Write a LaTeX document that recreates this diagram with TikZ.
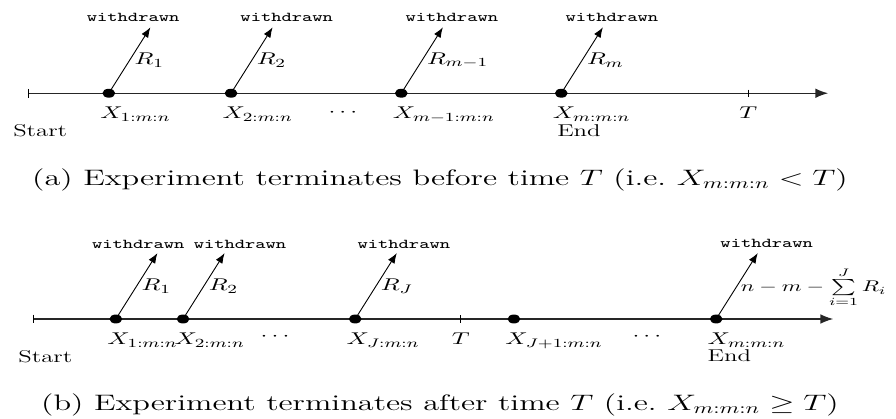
\documentclass[tikz,border=0pt]{standalone}
\usepackage{amsmath,amssymb}
\usetikzlibrary{positioning, arrows.meta, shapes.geometric}
\tikzset{
  sq/.style={transform shape, yscale=0.69},
  evt/.style={ellipse, fill=black, inner sep=0pt, minimum width=0.2cm, minimum height=0.14cm},
  wd/.style={sq, font=\ttfamily\fontsize{8.7}{10}\selectfont, inner sep=0pt},
  lbl/.style={sq, font=\fontsize{11}{13}\selectfont, inner sep=0pt, anchor=north west},
  rlab/.style={sq, font=\fontsize{11}{13}\selectfont, midway, right, inner sep=2pt},
  captxt/.style={sq, font=\Large, anchor=base},
  tline/.style={-{Latex[length=2mm]}, semithick, black!85},
  warr/.style={-{Latex[length=1.6mm]}, thin},
}
\begin{document}
\begin{tikzpicture}
  \useasboundingbox (0,0) rectangle (14,6.547);
  % (a) stops before T
  \coordinate (sa) at (0.45,5.09);
  \coordinate (ea) at (12.94,5.09);
  \coordinate (ta) at (11.69,5.09);
  \draw[tline] (sa) -- (ea);
  \draw ([yshift=0.07cm]sa) -- ([yshift=-0.07cm]sa);
  \draw ([yshift=0.055cm]ta) -- ([yshift=-0.055cm]ta);
  \foreach \n/\x/\r/\w/\s in {1/1.70/R_1/2.08/1:m:n, 2/3.61/R_2/4.48/2:m:n,
      3/6.27/R_{m-1}/7.06/m-1:m:n, 4/8.77/R_m/9.56/m:m:n} {
    \node[evt] (a\n) at (\x,5.09) {};
    \path (a\n.center) ++(0.65,1.03) coordinate (wa\n);
    \draw[warr] (a\n.center) -- (wa\n) node[rlab] (ra\n) {$\r$};
    \node[wd] (da\n) at (\w,6.28) {withdrawn};
    \node[lbl] (xa\n) at (\x-0.14,4.875) {$X_{\s}$};
  }
  \node[sq, font=\fontsize{11}{13}\selectfont] (dotsa) at (5.39,4.78) {$\cdots$};
  \node[lbl, anchor=north] (tla) at (11.69,4.875) {$T$};
  \node[lbl] (starta) at (0.2,4.61) {Start};
  \node[lbl] (enda) at (8.70,4.60) {End};
  \node[captxt] (capa) at (6.875,3.656) {(a) Experiment terminates before time $T$ (i.e.\ $X_{m:m:n}<T$)};

  % (b) stops after T
  \coordinate (sb) at (0.53,1.5625);
  \coordinate (eb) at (13.02,1.5625);
  \coordinate (tb) at (7.20,1.5625);
  \draw[tline] (sb) -- (eb);
  \draw ([yshift=0.07cm]sb) -- ([yshift=-0.07cm]sb);
  \draw ([yshift=0.055cm]tb) -- ([yshift=-0.055cm]tb);
  \foreach \n/\x/\s in {1/1.81/1:m:n, 2/2.86/2:m:n, 3/5.55/J:m:n, 4/8.03/J+1:m:n, 5/11.19/m:m:n} {
    \node[evt] (b\n) at (\x,1.5625) {};
    \node[lbl] (xb\n) at (\x-0.14,1.344) {$X_{\s}$};
  }
  \foreach \n/\r/\w in {1/R_1/2.16, 2/R_2/3.75, 3/R_J/6.31} {
    \path (b\n.center) ++(0.65,1.03) coordinate (wb\n);
    \draw[warr] (b\n.center) -- (wb\n) node[rlab] (rb\n) {$\r$};
    \node[wd] (db\n) at (\w,2.73) {withdrawn};
  }
  \path (b5.center) ++(0.65,1.03) coordinate (wb5);
  \draw[warr] (b5.center) -- (wb5)
    node[rlab, font=\fontsize{10.4}{12}\selectfont, inner sep=0pt, xshift=1.5pt, yshift=-1pt] (rb5) {$n-m-\sum\limits_{i=1}^{J}R_i$};
  \node[wd] (db5) at (11.98,2.745) {withdrawn};
  \node[sq, font=\fontsize{11}{13}\selectfont] (dotsb1) at (4.33,1.28) {$\cdots$};
  \node[sq, font=\fontsize{11}{13}\selectfont] (dotsb2) at (10.14,1.28) {$\cdots$};
  \node[lbl, anchor=north] (tlb) at (7.20,1.344) {$T$};
  \node[lbl] (startb) at (0.28,1.08) {Start};
  \node[lbl] (endb) at (11.05,1.085) {End};
  \node[captxt] (capb) at (6.875,0.14) {(b) Experiment terminates after time $T$ (i.e.\ $X_{m:m:n}\geq T$)};
\end{tikzpicture}
\end{document}
